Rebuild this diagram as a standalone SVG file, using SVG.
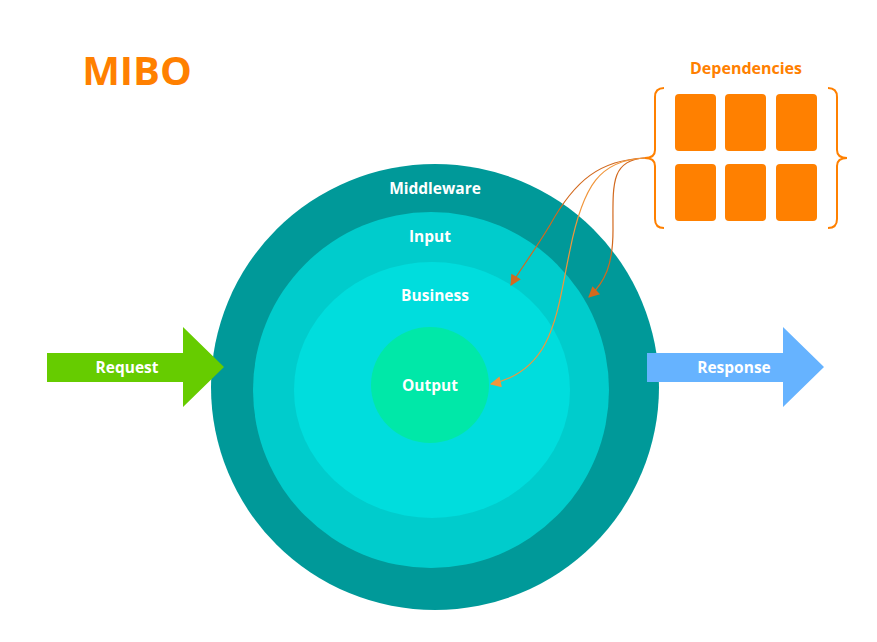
<svg xmlns="http://www.w3.org/2000/svg" width="877" height="642" viewBox="0 0 877 642">
<defs>
<style>
.lbl{font-family:"Open Sans","DejaVu Sans",sans-serif;font-weight:bold;font-size:15.5px;fill:#ffffff;text-anchor:middle}
.dep{fill:#ff8000}
.brace{fill:none;stroke:#ff8000;stroke-width:2}
.c1{fill:none;stroke:#d2691e;stroke-width:1.2}
.c2{fill:none;stroke:#f0963c;stroke-width:1.2}
</style>
<marker id="ah1" viewBox="0 0 10 10" refX="9" refY="5" markerWidth="12" markerHeight="11" markerUnits="userSpaceOnUse" orient="auto"><path d="M0,0 L10,5 L0,10 z" fill="#d2691e"/></marker>
<marker id="ah2" viewBox="0 0 10 10" refX="9" refY="5" markerWidth="12" markerHeight="11" markerUnits="userSpaceOnUse" orient="auto"><path d="M0,0 L10,5 L0,10 z" fill="#f0963c"/></marker>
</defs>
<rect width="877" height="642" fill="#ffffff"/>
<text x="137" y="85" font-family="Open Sans,DejaVu Sans,sans-serif" font-weight="bold" font-size="40" fill="#ff8000" text-anchor="middle">MIBO</text>
<g id="middleware"><ellipse cx="435" cy="387" rx="224" ry="223" fill="#009999"/><text class="lbl" x="435" y="194">Middleware</text></g>
<g id="input"><ellipse cx="431" cy="390" rx="178" ry="178" fill="#00cccc"/><text class="lbl" x="430" y="242">Input</text></g>
<g id="business"><ellipse cx="432" cy="390" rx="138" ry="128" fill="#00dddd"/><text class="lbl" x="435" y="301">Business</text></g>
<g id="output"><ellipse cx="430" cy="385" rx="59" ry="58" fill="#00e8a8"/><text class="lbl" x="430" y="391">Output</text></g>
<g id="request"><path d="M47,353 H183 V327 L224,367 L183,407 V382 H47 Z" fill="#66cc00"/><text class="lbl" x="127" y="373">Request</text></g>
<g id="response"><path d="M647,353 H783 V327 L824,367 L783,407 V382 H647 Z" fill="#66b3ff"/><text class="lbl" x="734" y="373">Response</text></g>
<g id="dependencies">
<text x="746" y="74" font-family="Open Sans,DejaVu Sans,sans-serif" font-weight="bold" font-size="16" fill="#ff8000" text-anchor="middle">Dependencies</text>
<rect class="dep" x="675" y="94" width="41" height="57" rx="4"/>
<rect class="dep" x="725" y="94" width="41" height="57" rx="4"/>
<rect class="dep" x="776" y="94" width="41" height="57" rx="4"/>
<rect class="dep" x="675" y="164" width="41" height="57" rx="4"/>
<rect class="dep" x="725" y="164" width="41" height="57" rx="4"/>
<rect class="dep" x="776" y="164" width="41" height="57" rx="4"/>
<path class="brace" d="M664,88 Q655,88 655,97 V150 Q655,158 645,158 Q655,158 655,166 V219 Q655,228 664,228"/>
<path class="brace" d="M828,88 Q837,88 837,97 V150 Q837,158 847,158 Q837,158 837,166 V219 Q837,228 828,228"/>
</g>
<g id="connectors">
<path class="c1" d="M645,158 C600,160 575,180 550,225 C535,250 520,270 511,285" marker-end="url(#ah1)"/>
<path class="c1" d="M645,158 C610,160 613,185 613,230 C613,265 605,282 589,297" marker-end="url(#ah1)"/>
<path class="c2" d="M645,158 C600,160 583,185 570,250 C557,310 555,370 491,384" marker-end="url(#ah2)"/>
</g>
</svg>
